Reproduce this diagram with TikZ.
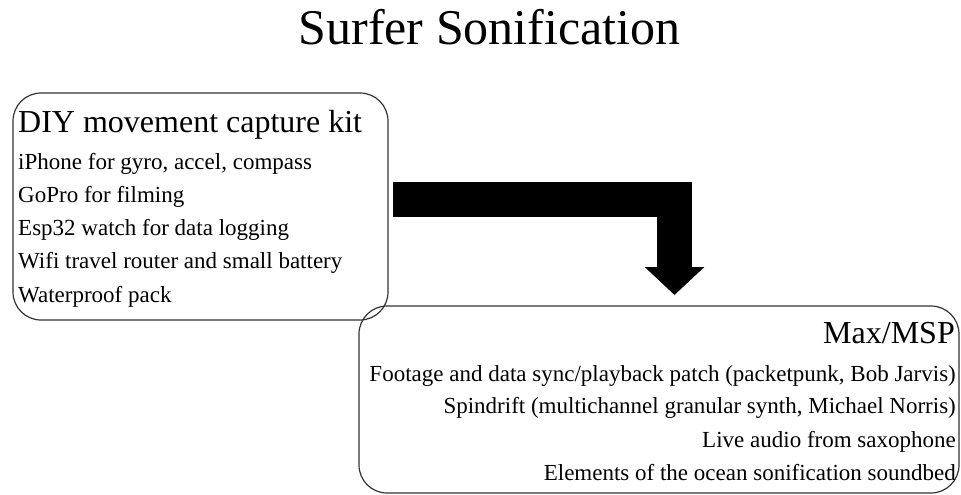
\documentclass[tikz,border=0pt]{standalone}
\usepackage{fontspec}
\setmainfont{Liberation Serif}
\usetikzlibrary{arrows.meta,calc}
\begin{document}
\begin{tikzpicture}[x=1pt,y=-1pt,
  panel/.style={draw=black!80, line width=1.2pt, rounded corners=28pt,
    inner sep=0pt, outer sep=0pt, anchor=north west},
  heading/.style={font=\fontsize{32}{36}\selectfont, inner sep=0pt},
  item/.style={font=\fontsize{23}{26}\selectfont, inner sep=0pt},
  flow/.style={line width=35pt, line join=miter,
    -{Triangle[length=28pt,width=58pt]}}]
\path[use as bounding box] (0,0) rectangle (961,495);

% title
\node[font=\fontsize{50}{56}\selectfont, anchor=base, inner sep=0pt]
  (title) at (489.5,45) {Surfer Sonification};

% capture kit panel
\node[panel, minimum width=375pt, minimum height=227pt] (kit) at (13,93) {};
\node[heading, anchor=base west] (kithead) at (18,132) {DIY movement capture kit};
\node[item, anchor=base west] (k1) at (18,169) {iPhone for gyro, accel, compass};
\node[item, anchor=base west] (k2) at (18,202) {GoPro for filming};
\node[item, anchor=base west] (k3) at (18,235) {Esp32 watch for data logging};
\node[item, anchor=base west] (k4) at (18,268) {Wifi travel router and small battery};
\node[item, anchor=base west] (k5) at (18,302) {Waterproof pack};

% Max/MSP panel
\node[panel, minimum width=600pt, minimum height=187pt] (dsp) at (359,306) {};
\node[heading, anchor=base east] (dsphead) at (955,343) {Max/MSP};
\node[item, anchor=base east] (m1) at (956,381) {Footage and data sync/playback patch (packetpunk, Bob Jarvis)};
\node[item, anchor=base east] (m2) at (956,413) {Spindrift (multichannel granular synth, Michael Norris)};
\node[item, anchor=base east] (m3) at (956,447) {Live audio from saxophone};
\node[item, anchor=base east] (m4) at (956,480) {Elements of the ocean sonification soundbed};

% bent arrow from the kit to Max/MSP
\coordinate (bend) at (674.5,199.5);
\draw[flow] ($(kit.east |- bend)+(5,0)$) -- (bend) -- ($(bend |- dsp.north)+(0,-11)$);
\end{tikzpicture}
\end{document}
